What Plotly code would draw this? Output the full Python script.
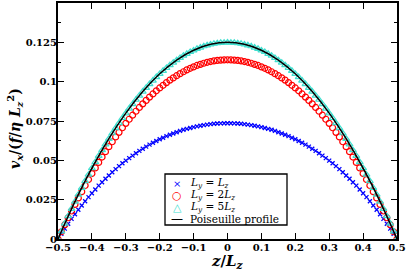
import plotly.graph_objects as go

# grid of z/Lz positions (-0.5 .. 0.5, step 0.01)
z = [round(-0.5 + 0.01 * i, 2) for i in range(101)]

v_lz = [0, 0.0033, 0.0066, 0.0097, 0.0128, 0.0157, 0.0186, 0.0213, 0.0240, 0.0266,
        0.0291, 0.0315, 0.0339, 0.0361, 0.0383, 0.0404, 0.0424, 0.0444, 0.0463, 0.0481,
        0.0498, 0.0514, 0.0530, 0.0545, 0.0560, 0.0574, 0.0587, 0.0600, 0.0612, 0.0623,
        0.0634, 0.0644, 0.0654, 0.0663, 0.0671, 0.0679, 0.0687, 0.0694, 0.0700, 0.0706,
        0.0711, 0.0716, 0.0720, 0.0724, 0.0727, 0.0730, 0.0732, 0.0734, 0.0735, 0.0736,
        0.0736,
        0.0736, 0.0735, 0.0734, 0.0732, 0.0730, 0.0727, 0.0724, 0.0720, 0.0716, 0.0711,
        0.0706, 0.0700, 0.0694, 0.0687, 0.0679, 0.0671, 0.0663, 0.0654, 0.0644, 0.0634,
        0.0623, 0.0612, 0.0600, 0.0587, 0.0574, 0.0560, 0.0545, 0.0530, 0.0514, 0.0498,
        0.0481, 0.0463, 0.0444, 0.0424, 0.0404, 0.0383, 0.0361, 0.0339, 0.0315, 0.0291,
        0.0266, 0.0240, 0.0213, 0.0186, 0.0157, 0.0128, 0.0097, 0.0066, 0.0033, 0]

v_2lz = [0, 0.0046, 0.0091, 0.0135, 0.0178, 0.0220, 0.0261, 0.0301, 0.0340, 0.0378,
         0.0416, 0.0452, 0.0487, 0.0521, 0.0555, 0.0587, 0.0618, 0.0649, 0.0678, 0.0707,
         0.0735, 0.0761, 0.0787, 0.0812, 0.0836, 0.0859, 0.0881, 0.0902, 0.0922, 0.0942,
         0.0960, 0.0977, 0.0994, 0.1010, 0.1024, 0.1038, 0.1051, 0.1063, 0.1075, 0.1085,
         0.1094, 0.1103, 0.1110, 0.1117, 0.1123, 0.1128, 0.1132, 0.1135, 0.1137, 0.1138,
         0.1139,
         0.1138, 0.1137, 0.1135, 0.1132, 0.1128, 0.1123, 0.1117, 0.1110, 0.1103, 0.1094,
         0.1085, 0.1075, 0.1063, 0.1051, 0.1038, 0.1024, 0.1010, 0.0994, 0.0977, 0.0960,
         0.0942, 0.0922, 0.0902, 0.0881, 0.0859, 0.0836, 0.0812, 0.0787, 0.0761, 0.0735,
         0.0707, 0.0678, 0.0649, 0.0618, 0.0587, 0.0555, 0.0521, 0.0487, 0.0452, 0.0416,
         0.0378, 0.0340, 0.0301, 0.0261, 0.0220, 0.0178, 0.0135, 0.0091, 0.0046, 0]

v_5lz = [0, 0.0049, 0.0098, 0.0145, 0.0192, 0.0237, 0.0282, 0.0325, 0.0368, 0.0409,
         0.0450, 0.0489, 0.0528, 0.0565, 0.0602, 0.0637, 0.0672, 0.0705, 0.0737, 0.0769,
         0.0799, 0.0829, 0.0857, 0.0885, 0.0911, 0.0937, 0.0961, 0.0985, 0.1007, 0.1029,
         0.1049, 0.1069, 0.1087, 0.1105, 0.1121, 0.1137, 0.1151, 0.1165, 0.1177, 0.1189,
         0.1199, 0.1209, 0.1217, 0.1225, 0.1231, 0.1237, 0.1241, 0.1245, 0.1247, 0.1248,
         0.1249,
         0.1248, 0.1247, 0.1245, 0.1241, 0.1237, 0.1231, 0.1225, 0.1217, 0.1209, 0.1199,
         0.1189, 0.1177, 0.1165, 0.1151, 0.1137, 0.1121, 0.1105, 0.1087, 0.1069, 0.1049,
         0.1029, 0.1007, 0.0985, 0.0961, 0.0937, 0.0911, 0.0885, 0.0857, 0.0829, 0.0799,
         0.0769, 0.0737, 0.0705, 0.0672, 0.0637, 0.0602, 0.0565, 0.0528, 0.0489, 0.0450,
         0.0409, 0.0368, 0.0325, 0.0282, 0.0237, 0.0192, 0.0145, 0.0098, 0.0049, 0]

# Poiseuille profile sampled every 0.05
z_pois = [-0.5, -0.45, -0.4, -0.35, -0.3, -0.25, -0.2, -0.15, -0.1, -0.05, 0,
          0.05, 0.1, 0.15, 0.2, 0.25, 0.3, 0.35, 0.4, 0.45, 0.5]
v_pois = [0, 0.02375, 0.045, 0.06375, 0.08, 0.09375, 0.105, 0.11375, 0.12, 0.12375, 0.125,
          0.12375, 0.12, 0.11375, 0.105, 0.09375, 0.08, 0.06375, 0.045, 0.02375, 0]

x_tickvals = [-0.5, -0.4, -0.3, -0.2, -0.1, 0, 0.1, 0.2, 0.3, 0.4, 0.5]
x_ticktext = ["\u22120.5", "\u22120.4", "\u22120.3", "\u22120.2", "\u22120.1", "0",
              "0.1", "0.2", "0.3", "0.4", "0.5"]
y_tickvals = [0, 0.025, 0.05, 0.075, 0.1, 0.125]
y_ticktext = ["0", "0.025", "0.05", "0.075", "0.1", "0.125"]
y_minor = [0.0125, 0.0375, 0.0625, 0.0875, 0.1125, 0.1375]

legend_labels = ["<i>L<sub>y</sub></i> = <i>L<sub>z</sub></i>",
                 "<i>L<sub>y</sub></i> = 2<i>L<sub>z</sub></i>",
                 "<i>L<sub>y</sub></i> = 5<i>L<sub>z</sub></i>",
                 "Poiseuille profile"]
legend_symbols = ["\u00d7", "\u25cb", "\u25b3", "\u2014"]
colors = ["blue", "red", "#40E0D0", "black"]

SERIF = "DejaVu Serif"

fig = go.Figure()
fig.add_trace(go.Scatter(
    x=z, y=v_lz, mode="markers", name=legend_labels[0],
    marker=dict(symbol="x-thin", size=4, color=colors[0], line=dict(color=colors[0], width=1.3))))
fig.add_trace(go.Scatter(
    x=z, y=v_2lz, mode="markers", name=legend_labels[1],
    marker=dict(symbol="circle-open", size=6, color=colors[1], line=dict(color=colors[1], width=1.2))))
fig.add_trace(go.Scatter(
    x=z, y=v_5lz, mode="markers", name=legend_labels[2],
    marker=dict(symbol="triangle-up-open", size=6, color=colors[2], line=dict(color=colors[2], width=1.2))))
fig.add_trace(go.Scatter(
    x=z_pois, y=v_pois, mode="lines", name=legend_labels[3],
    line=dict(color=colors[3], width=1.5, shape="spline")))

axis_common = dict(
    showline=True, linecolor="black", linewidth=2, mirror="ticks",
    ticks="inside", tickcolor="black", tickwidth=1.3, ticklen=6,
    showgrid=False, zeroline=False, automargin=False,
    tickfont=dict(family=SERIF, size=10, color="black", weight="bold"),
)

fig.update_xaxes(range=[-0.5, 0.5], tickmode="array", tickvals=x_tickvals,
                 ticktext=x_ticktext, ticklabelstandoff=-2, **axis_common)
fig.update_yaxes(range=[0, 0.15], tickmode="array", tickvals=y_tickvals, ticktext=y_ticktext,
                 minor=dict(tickmode="array", tickvals=y_minor, ticks="inside", ticklen=3,
                            tickcolor="black", tickwidth=1.3),
                 ticklabelstandoff=-3, **axis_common)


def px_x(p):
    return (p - 58) / 339.0


def px_y(p):
    return (239 - p) / 236.0


annotations = [
    dict(text="<i>z</i>/<i>L<sub>z</sub></i>", xref="paper", yref="paper", x=0.5, y=px_y(261),
         xanchor="center", yanchor="middle", showarrow=False,
         font=dict(family=SERIF, size=15, color="black", weight="bold")),
    dict(text="<i>v<sub>x</sub></i>/(<i>f</i>/<i>η</i> <i>L<sub>z</sub></i><sup>2</sup>)",
         xref="paper", yref="paper", x=px_x(15), y=px_y(128), textangle=-90,
         xanchor="center", yanchor="middle", showarrow=False,
         font=dict(family=SERIF, size=14, color="black", weight="bold")),
]

# legend rows (one text per row so row spacing matches the reference)
row_y = [183, 195, 207, 219]
sym_sizes = [10, 11, 11, 12]
for s, c, lab, fs, ry in zip(legend_symbols, colors, legend_labels, sym_sizes, row_y):
    annotations.append(dict(text=s, xref="paper", yref="paper", x=px_x(177), y=px_y(ry),
                            xanchor="center", yanchor="middle", showarrow=False,
                            font=dict(family=SERIF, size=fs, color=c)))
    annotations.append(dict(text=lab, xref="paper", yref="paper", x=px_x(188), y=px_y(ry),
                            xanchor="left", yanchor="middle", showarrow=False,
                            font=dict(family=SERIF, size=10.5, color="black")))

shapes = [dict(type="rect", xref="paper", yref="paper",
               x0=px_x(165), x1=px_x(287), y0=px_y(225), y1=px_y(174),
               line=dict(color="black", width=1.3), fillcolor="white", layer="below")]

fig.update_layout(
    width=407, height=271,
    margin=dict(l=58, r=10, t=3, b=32),
    paper_bgcolor="white", plot_bgcolor="white",
    showlegend=False,
    annotations=annotations,
    shapes=shapes,
)

fig.write_html("out.html", config={"displayModeBar": False},
               post_script="document.body.style.margin='0';")
